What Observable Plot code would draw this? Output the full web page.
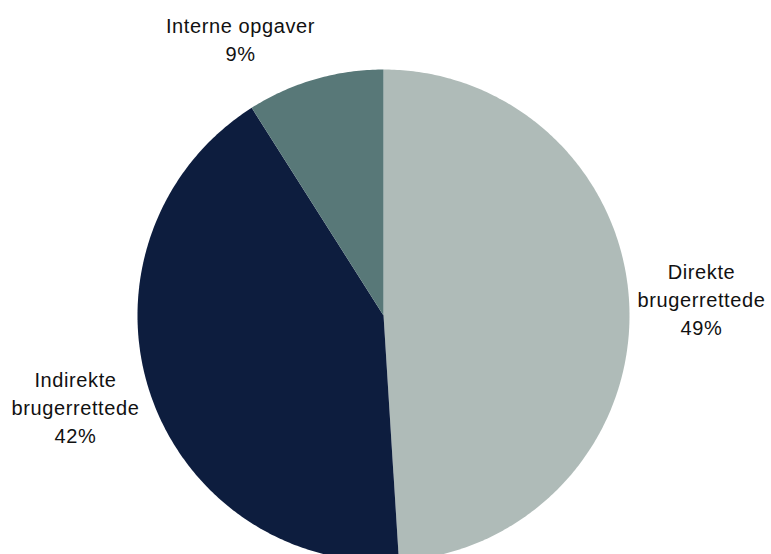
<!DOCTYPE html>
<html>
<head>
<meta charset="utf-8">
<script src="https://cdn.jsdelivr.net/npm/d3@7"></script>
<script src="https://cdn.jsdelivr.net/npm/@observablehq/plot@0.6"></script>
<style>
  html, body { margin: 0; padding: 0; background: #ffffff; }
  #chart { width: 771px; height: 554px; overflow: hidden; }
  svg text { letter-spacing: 0.6px; font-family: "Liberation Sans", Arial, sans-serif; }
</style>
</head>
<body>
<div id="chart"></div>
<script>
// Data
const categories = ["Direkte brugerrettede", "Indirekte brugerrettede", "Interne opgaver"];
const labelLines = ["Direkte\nbrugerrettede", "Indirekte\nbrugerrettede", "Interne opgaver"];
const shares = [49, 42, 9];
const colors = ["#afbbb8", "#0d1d3e", "#587878"];

// Layout
const W = 771, H = 554;
const cx = 383, cy = 315, R = 246;
// label anchor points (layout, per slice): [x, y]
const labelPos = [[701, 298], [75, 406], [240, 38]];

const pie = d3.pie().sort(null).value(d => d)(shares);

const polys = [];
pie.forEach((p, i) => {
  const n = Math.max(4, Math.ceil((p.endAngle - p.startAngle) * 90));
  polys.push({cat: categories[i], x: cx, y: cy});
  for (let k = 0; k <= n; k++) {
    const a = p.startAngle + (p.endAngle - p.startAngle) * k / n;
    polys.push({cat: categories[i], x: cx + R * Math.sin(a), y: cy - R * Math.cos(a)});
  }
  polys.push({cat: categories[i], x: cx, y: cy});
});

const labels = pie.map((p, i) => ({
  cat: categories[i],
  text: labelLines[i] + "\n" + shares[i] + "%",
  x: labelPos[i][0],
  y: labelPos[i][1]
}));

const chart = Plot.plot({
  width: W,
  height: H,
  margin: 0,
  x: {domain: [0, W], axis: null},
  y: {domain: [H, 0], axis: null},
  color: {domain: categories, range: colors},
  style: {background: "#ffffff", fontFamily: "'Liberation Sans', Arial, sans-serif"},
  marks: [
    Plot.line(polys, {x: "x", y: "y", z: "cat", fill: "cat", stroke: "none", curve: "linear"}),
    Plot.text(labels, {x: "x", y: "y", text: "text", fill: "#111111", fontSize: 20, lineHeight: 1.4, textAnchor: "middle", lineAnchor: "middle"})
  ]
});
document.getElementById("chart").append(chart);
</script>
</body>
</html>
